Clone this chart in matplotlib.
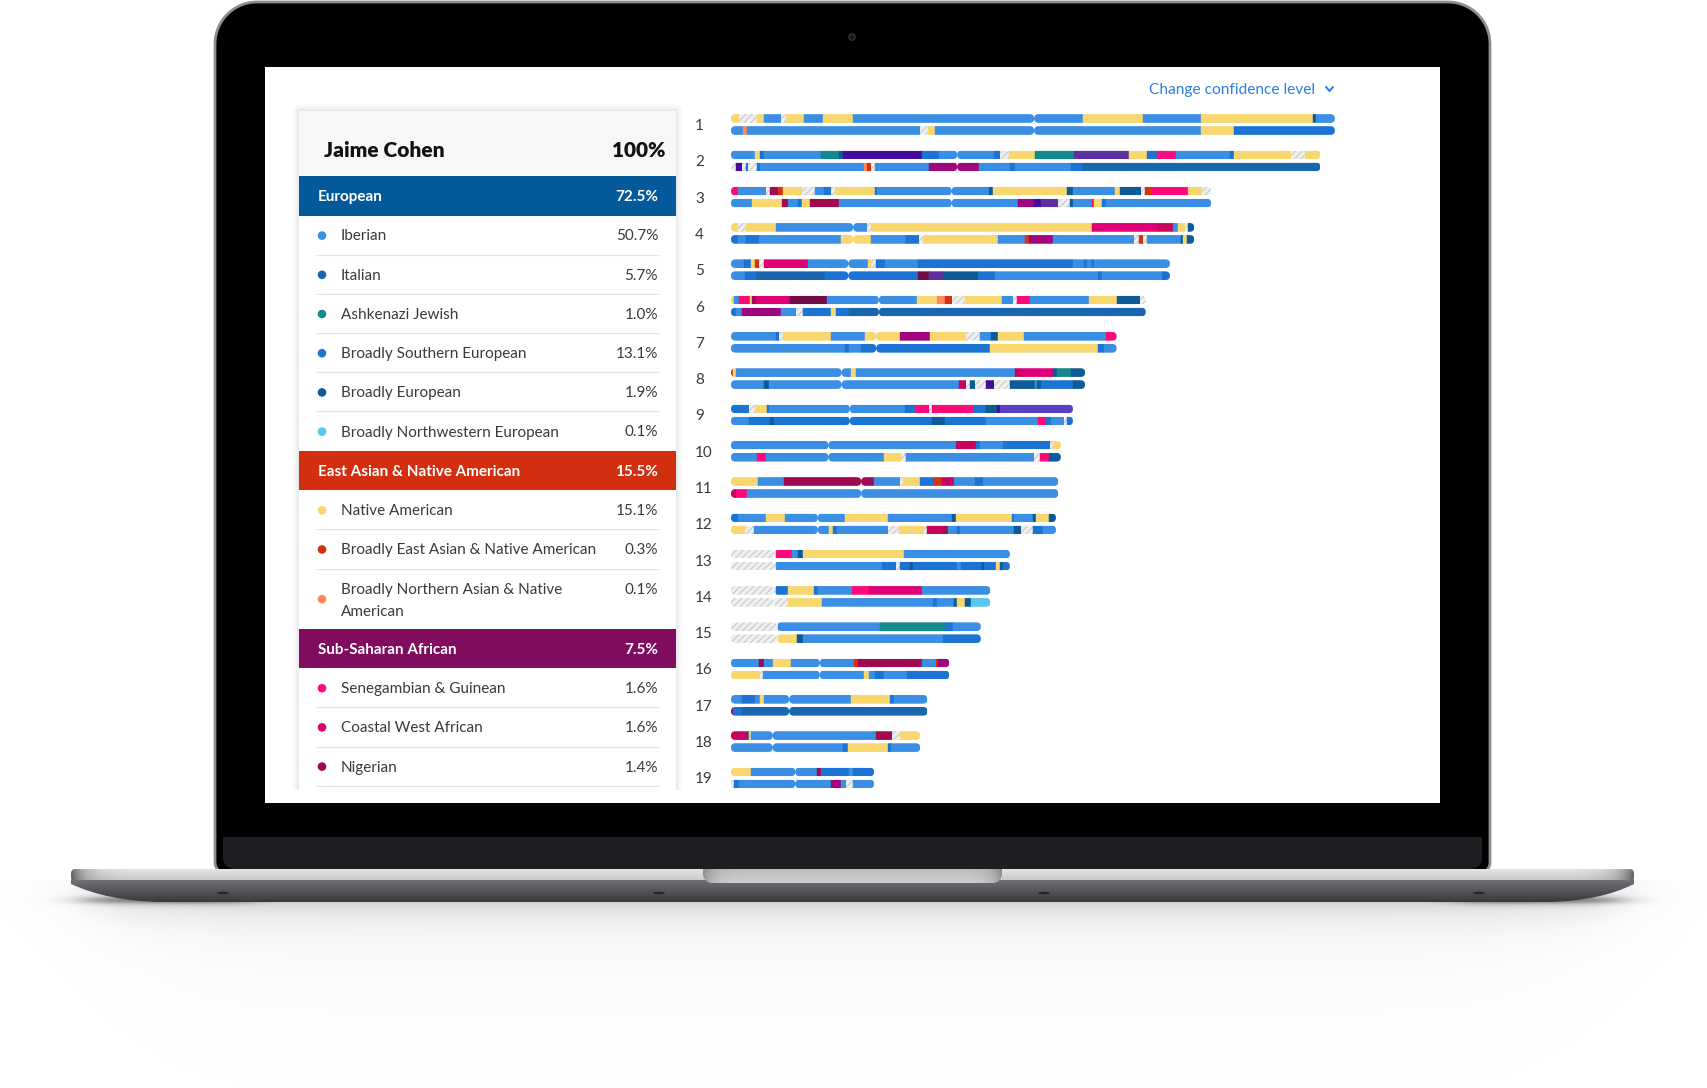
"""Ancestry composition screen shown on a laptop mock-up."""

import textwrap
import numpy as np
import matplotlib.pyplot as plt
from matplotlib.patches import FancyBboxPatch, Rectangle, PathPatch, Ellipse, Circle
from matplotlib.path import Path

plt.rcParams["font.family"] = ["Lato", "DejaVu Sans"]
plt.rcParams["hatch.linewidth"] = 0.7

# ---- ancestry summary -------------------------------------------------------
person = "Jaime Cohen"
groups = ["European", "East Asian & Native American", "Sub-Saharan African"]
group_pct = [72.5, 15.5, 7.5]
group_colors = ["#04599b", "#d22e10", "#7f0c5e"]

regions = ["Iberian", "Italian", "Ashkenazi Jewish", "Broadly Southern European",
           "Broadly European", "Broadly Northwestern European",
           "Native American", "Broadly East Asian & Native American",
           "Broadly Northern Asian & Native American",
           "Senegambian & Guinean", "Coastal West African", "Nigerian"]
region_pct = [50.7, 5.7, 1.0, 13.1, 1.9, 0.1, 15.1, 0.3, 0.1, 1.6, 1.6, 1.4]
region_group = [0, 0, 0, 0, 0, 0, 1, 1, 1, 2, 2, 2]
region_codes = ["IB", "IT", "AJ", "SE", "BE", "NW", "NA", "EA", "NN", "SG", "CW", "NG"]

palette = {
    "IB": "#3a8ee4", "IT": "#1a66ae", "AJ": "#12898a", "SE": "#1b74d3",
    "BE": "#0d5a98", "NW": "#57c7ee", "NA": "#f9d76f", "EA": "#d5330f",
    "NN": "#ff8a5c", "SG": "#ff0a78", "CW": "#df0078", "NG": "#9f0a50",
    "CR": "#c6045e", "MR": "#730d46", "MP": "#a0067c", "PU": "#5d2f9f",
    "DP": "#430c9b", "VI": "#5442c2", "UN": "#efefef",
}

# ---- chromosome painting (segment end in Mb, region code) --------------------
chrom_len = [249, 243, 198, 191, 181, 171, 159, 146, 141, 136, 135, 134,
             115, 107, 103, 90, 81, 78, 59]
centromere = [125.0, 93.3, 91.0, 50.4, 48.4, 61.0, 59.9, 45.6, 49.0, 40.2,
              53.7, 35.8, 17.9, 17.6, 19.0, 36.6, 24.0, 17.2, 26.5]

chr1_a = [(3.1, "NA"), (10.8, "UN"), (13.7, "NA"), (20.7, "IB"), (22.8, "UN"), (30.3, "NA"),
          (37.9, "IB"), (50.2, "NA"), (145.2, "IB"), (169.7, "NA"), (193.7, "IB"),
          (240.2, "NA"), (241.4, "BE"), (249, "IB")]
chr1_b = [(5.1, "IB"), (6.5, "NN"), (77.8, "IB"), (81.3, "UN"), (84.3, "NA"), (193.7, "IB"),
          (207.5, "NA"), (249, "SE")]
chr2_a = [(10.1, "IB"), (12.1, "NA"), (13.7, "SE"), (37.1, "IB"), (44.4, "AJ"), (46.0, "BE"),
          (78.8, "DP"), (85.8, "SE"), (108.6, "IB"), (110.9, "SE"), (114.7, "UN"), (125.3, "NA"),
          (141.4, "AJ"), (164.1, "PU"), (171.5, "NA"), (175.8, "SE"), (183.4, "SG"),
          (205.8, "IB"), (207.5, "SE"), (231.1, "NA"), (236.8, "UN"), (243, "NA")]
chr2_b = [(2.2, "UN"), (4.6, "DP"), (6.0, "UN"), (7.1, "SE"), (10.8, "UN"), (12.1, "SE"),
          (54.8, "IB"), (56.0, "NN"), (57.6, "EA"), (59.3, "UN"), (81.6, "IB"), (102.3, "MP"),
          (115.1, "IB"), (117.2, "SE"), (140.4, "IB"), (145.0, "SE"), (243, "IT")]
chr3_a = [(3.0, "SG"), (14.6, "IB"), (16.1, "UN"), (19.4, "NG"), (21.4, "EA"), (29.3, "NA"),
          (34.6, "UN"), (38.2, "IB"), (41.1, "SE"), (42.7, "UN"), (59.4, "NA"), (60.1, "SE"),
          (106.5, "IB"), (108.1, "BE"), (138.6, "NA"), (141.2, "BE"), (158.4, "IB"),
          (160.3, "NA"), (169.0, "BE"), (170.7, "UN"), (173.5, "EA"), (188.4, "SG"),
          (194.2, "NA"), (198, "UN")]
chr3_b = [(8.8, "IB"), (21.2, "NA"), (23.3, "NG"), (27.8, "IB"), (29.3, "SE"), (32.6, "NA"),
          (44.5, "NG"), (118.4, "IB"), (125.0, "MP"), (128.0, "DP"), (134.9, "PU"),
          (139.9, "UN"), (140.9, "BE"), (148.7, "IB"), (149.8, "SG"), (153.1, "NA"),
          (154.8, "SE"), (198, "IB")]
chr4_a = [(3.0, "NA"), (6.3, "UN"), (18.7, "NA"), (56.0, "IB"), (57.6, "UN"), (148.7, "NA"),
          (176.0, "CW"), (182.3, "CR"), (184.3, "IB"), (187.2, "NA"), (188.4, "UN"), (191, "BE")]
chr4_b = [(3.0, "SE"), (6.3, "IB"), (11.6, "SE"), (45.2, "IB"), (57.6, "NA"), (72.2, "IB"),
          (77.5, "SE"), (79.1, "UN"), (110.1, "NA"), (121.4, "IB"), (122.7, "EA"), (132.6, "MP"),
          (166.1, "IB"), (168.2, "UN"), (169.7, "EA"), (171.5, "UN"), (185.6, "IB"),
          (186.3, "BE"), (188.1, "NA"), (191, "BE")]
chr5_a = [(5.5, "IB"), (8.3, "SE"), (10.1, "NA"), (11.6, "EA"), (13.7, "UN"), (31.6, "CW"),
          (56.3, "IB"), (57.6, "NA"), (59.6, "UN"), (63.7, "SE"), (77.2, "IB"), (141.2, "SE"),
          (145.7, "IB"), (147.0, "SE"), (148.7, "IB"), (149.8, "SE"), (181, "IB")]
chr5_b = [(5.8, "IB"), (10.4, "SE"), (38.6, "IT"), (77.2, "SE"), (81.6, "MR"), (87.4, "PU"),
          (102.0, "BE"), (108.9, "SE"), (151.2, "IB"), (152.8, "SE"), (177.6, "IB"), (181, "SE")]
chr6_a = [(1.3, "NA"), (3.3, "IB"), (7.9, "SG"), (8.8, "NA"), (10.4, "NG"), (24.2, "CW"),
          (39.6, "MR"), (76.7, "IB"), (84.9, "NA"), (88.2, "NN"), (91.2, "EA"), (96.5, "UN"),
          (111.9, "NA"), (116.1, "IB"), (118.0, "UN"), (123.5, "SG"), (147.8, "IB"),
          (159.1, "NA"), (168.5, "BE"), (171, "UN")]
chr6_b = [(2.2, "SE"), (4.6, "IB"), (20.7, "MP"), (27.0, "IB"), (29.8, "UN"), (41.2, "SE"),
          (43.5, "NA"), (48.5, "SE"), (171, "IT")]
chr7_a = [(18.7, "IB"), (20.0, "SE"), (21.5, "UN"), (41.2, "NA"), (55.3, "IB"), (69.7, "NA"),
          (82.0, "MP"), (96.9, "NA"), (102.8, "UN"), (107.3, "IB"), (110.1, "BE"),
          (120.9, "NA"), (154.8, "IB"), (159, "SG")]
chr7_b = [(46.9, "IB"), (48.5, "SE"), (53.8, "IB"), (107.0, "SE"), (151.3, "NA"),
          (154.0, "SE"), (159, "IB")]
chr8_a = [(1.0, "EA"), (2.2, "NA"), (49.3, "IB"), (51.5, "NA"), (117.2, "IB"), (120.0, "CR"),
          (132.6, "CW"), (134.6, "BE"), (140.1, "AJ"), (146, "BE")]
chr8_b = [(13.7, "IB"), (15.7, "BE"), (94.0, "IB"), (96.9, "CR"), (98.5, "UN"), (100.7, "BE"),
          (105.1, "UN"), (108.4, "DP"), (115.1, "UN"), (125.2, "BE"), (126.3, "IB"),
          (128.0, "BE"), (141.2, "SE"), (146, "BE")]
chr9_a = [(7.5, "SE"), (10.1, "UN"), (14.9, "NA"), (15.7, "SE"), (71.7, "IB"), (75.8, "SE"),
          (81.6, "SG"), (82.9, "UN"), (100.3, "SG"), (105.1, "SE"), (109.8, "BE"),
          (110.9, "DP"), (141, "VI")]
chr9_b = [(7.5, "IB"), (16.2, "SE"), (17.9, "BE"), (82.9, "SE"), (88.2, "BE"), (105.1, "SE"),
          (126.7, "IB"), (130.1, "SG"), (132.1, "SE"), (137.4, "IB"), (138.4, "UN"), (141, "SE")]
chr10_a = [(92.9, "IB"), (101.0, "CR"), (102.6, "SE"), (112.3, "IB"), (131.6, "SE"),
           (132.9, "UN"), (136, "NA")]
chr10_b = [(10.8, "IB"), (14.6, "SG"), (63.1, "IB"), (70.0, "NA"), (72.2, "UN"), (125.0, "IB"),
           (127.6, "UN"), (131.3, "SG"), (136, "BE")]
chr11_a = [(11.3, "NA"), (22.0, "IB"), (58.9, "NG"), (69.7, "IB"), (70.9, "UN"), (77.8, "NA"),
           (83.6, "SE"), (87.1, "EA"), (91.9, "CR"), (100.7, "IB"), (104.0, "SE"), (135, "IB")]
chr11_b = [(2.2, "CR"), (6.6, "SG"), (135, "IB")]
chr12_a = [(3.0, "SE"), (14.6, "IB"), (22.4, "NA"), (47.2, "IB"), (64.7, "NA"), (91.2, "IB"),
           (92.9, "BE"), (115.9, "NA"), (116.7, "SE"), (124.7, "IB"), (125.8, "BE"),
           (131.3, "NA"), (134, "BE")]
chr12_b = [(5.8, "NA"), (9.6, "UN"), (40.6, "IB"), (42.2, "NA"), (43.9, "SE"), (64.7, "IB"),
           (69.2, "UN"), (79.6, "NA"), (80.8, "UN"), (87.4, "CR"), (89.4, "NG"), (93.2, "IB"),
           (94.4, "SE"), (116.9, "IB"), (119.4, "BE"), (124.7, "UN"), (128.8, "SE"), (134, "IB")]
chr13_a = [(18.7, "UN"), (25.3, "SG"), (27.8, "IB"), (29.5, "BE"), (71.2, "NA"), (115, "IB")]
chr13_b = [(18.7, "UN"), (62.3, "IB"), (67.9, "SE"), (69.5, "UN"), (73.8, "SE"), (75.0, "BE"),
           (93.2, "SE"), (94.9, "IB"), (103.5, "SE"), (104.5, "BE"), (109.4, "SE"),
           (110.9, "NA"), (112.1, "BE"), (115, "SE")]
chr14_a = [(18.7, "UN"), (23.7, "SE"), (34.4, "NA"), (35.8, "SE"), (49.8, "IB"), (57.1, "SG"),
           (78.6, "CW"), (107, "IB")]
chr14_b = [(23.7, "UN"), (37.4, "NA"), (83.3, "IB"), (84.9, "SE"), (91.9, "IB"), (93.2, "BE"),
           (96.5, "NA"), (99.0, "BE"), (107, "NW")]
chr15_a = [(19.5, "UN"), (61.3, "IB"), (88.2, "AJ"), (91.6, "SE"), (103, "IB")]
chr15_b = [(19.5, "UN"), (27.3, "NA"), (29.5, "BE"), (87.4, "IB"), (103, "SE")]
chr16_a = [(11.6, "IB"), (13.7, "NG"), (17.5, "IB"), (24.8, "NA"), (50.7, "IB"), (52.3, "EA"),
           (78.6, "NG"), (84.4, "IB"), (85.4, "EA"), (90, "MP")]
chr16_b = [(11.8, "NA"), (13.2, "UN"), (54.8, "IB"), (56.8, "NA"), (59.4, "IB"), (63.1, "SE"),
           (72.5, "IB"), (90, "SE")]
chr17_a = [(4.6, "IB"), (10.1, "SE"), (12.1, "IB"), (13.7, "NA"), (49.3, "IB"), (65.6, "NA"),
           (67.2, "SE"), (81, "IB")]
chr17_b = [(0.8, "NG"), (4.6, "SE"), (81, "IT")]
chr18_a = [(6.8, "CR"), (7.6, "BE"), (8.4, "NA"), (59.8, "IB"), (66.2, "NG"), (69.5, "UN"),
           (78, "NA")]
chr18_b = [(46.0, "IB"), (48.2, "SE"), (64.7, "NA"), (65.9, "SE"), (78, "IB")]
chr19_a = [(8.4, "NA"), (35.3, "IB"), (37.3, "NG"), (48.8, "SE"), (50.2, "IB"), (59, "SE")]
chr19_b = [(1.3, "UN"), (3.3, "SE"), (41.1, "IB"), (45.2, "MP"), (47.4, "IB"), (50.2, "UN"),
           (59, "IB")]

haplotypes = [(chr1_a, chr1_b), (chr2_a, chr2_b), (chr3_a, chr3_b), (chr4_a, chr4_b),
              (chr5_a, chr5_b), (chr6_a, chr6_b), (chr7_a, chr7_b), (chr8_a, chr8_b),
              (chr9_a, chr9_b), (chr10_a, chr10_b), (chr11_a, chr11_b), (chr12_a, chr12_b),
              (chr13_a, chr13_b), (chr14_a, chr14_b), (chr15_a, chr15_b), (chr16_a, chr16_b),
              (chr17_a, chr17_b), (chr18_a, chr18_b), (chr19_a, chr19_b)]

W, H = 1708, 1088
fig = plt.figure(figsize=(W / 100, H / 100), dpi=100)
bg = fig.add_axes([0, 0, 1, 1])
bg.axis("off")


def px_axes(x0, y0, x1, y1):
    return fig.add_axes([x0 / W, 1 - y1 / H, (x1 - x0) / W, (y1 - y0) / H])


def rrect_path(x0, y0, x1, y1, rt, rb):
    # y0 is the top edge (screen y grows downwards)
    k = 0.5523
    v = [(x0 + rt, y0), (x1 - rt, y0),
         (x1 - rt + k * rt, y0), (x1, y0 + rt - k * rt), (x1, y0 + rt),
         (x1, y1 - rb),
         (x1, y1 - rb + k * rb), (x1 - rb + k * rb, y1), (x1 - rb, y1),
         (x0 + rb, y1),
         (x0 + rb - k * rb, y1), (x0, y1 - rb + k * rb), (x0, y1 - rb),
         (x0, y0 + rt),
         (x0, y0 + rt - k * rt), (x0 + rt - k * rt, y0), (x0 + rt, y0),
         (x0 + rt, y0)]
    c = ([Path.MOVETO, Path.LINETO] + [Path.CURVE4] * 3 + [Path.LINETO] + [Path.CURVE4] * 3
         + [Path.LINETO] + [Path.CURVE4] * 3 + [Path.LINETO] + [Path.CURVE4] * 3 + [Path.CLOSEPOLY])
    return Path(v, c)


def smooth_box(x, a, b, s):
    return 1 / (1 + np.exp(-(x - a) / s)) / (1 + np.exp((x - b) / s))


def gradient_fill(path, img, extent, z):
    patch = PathPatch(path, fc="none", lw=0, zorder=z)
    bg.add_patch(patch)
    im = bg.imshow(img, extent=extent, aspect="auto", interpolation="bilinear", zorder=z)
    im.set_clip_path(patch)


# ---- floor shadow ------------------------------------------------------------
X, Y = np.meshgrid(np.arange(W) + 0.5, np.arange(880, H) + 0.5)
below = np.clip(Y - 902, 0, None)
near = 0.13 * np.exp(-below / 14) * smooth_box(X, 95, 1610, 18)
haze = 0.05 * np.exp(-below / 75) * smooth_box(X, 140, 1570, 55)
taper = 0.35 * np.exp(-((Y - 900) / 4) ** 2) * (smooth_box(X, 85, 250, 12) + smooth_box(X, 1455, 1620, 12))
shadow = np.zeros(X.shape + (4,))
shadow[..., 3] = np.clip(near + haze + taper, 0, 1)
bg.imshow(shadow, extent=(0, W, H, 880), aspect="auto", zorder=0)

# ---- lid, bezel, screen -------------------------------------------------------
bg.add_patch(PathPatch(rrect_path(215, 2, 1490, 874, 42, 12), fc="black", ec="#8e8e8e",
                       lw=2.0, zorder=2))
bg.add_patch(PathPatch(rrect_path(223, 837, 1482, 869, 0, 11), fc="#1d1e21", lw=0, zorder=3))
bg.add_patch(Rectangle((265, 67), 1175, 736, fc="white", lw=0, zorder=3))
bg.add_patch(Circle((852, 37), 3.2, fc="#1a1a1a", ec="#3a3a3a", lw=0.8, zorder=4))

view = Rectangle((265, 67), 1175, 723, transform=bg.transData)

bg.text(1149, 90, "Change confidence level", color="#2f80df", fontsize=11.2,
        va="center", zorder=5)
bg.plot([1326, 1329.5, 1333], [87, 91, 87], color="#2f80df", lw=1.5,
        solid_capstyle="round", zorder=5)

# ---- summary card ---------------------------------------------------------------
for d, a in [(7, 0.012), (5, 0.018), (3, 0.025), (1.5, 0.035)]:
    p = FancyBboxPatch((299 - d, 111 - d), 377 + 2 * d, 720, boxstyle=f"round,pad=0,rounding_size={d}",
                       fc="black", alpha=a, lw=0, zorder=4)
    bg.add_patch(p)
    p.set_clip_path(view)
card = Rectangle((299, 111), 377, 720, fc="white", lw=0, zorder=5)
bg.add_patch(card)
card.set_clip_path(view)
bg.add_patch(Rectangle((299, 111), 377, 65, fc="#f6f7f9", lw=0, zorder=5))
bg.text(324, 150.5, person, fontsize=15, fontweight="heavy", color="#111111", va="center", zorder=6)
bg.text(666, 150.5, "100%", fontsize=15, fontweight="heavy", color="#111111", va="center",
        ha="right", zorder=6)

y = 176.0
for g, (gname, gpct, gcol) in enumerate(zip(groups, group_pct, group_colors)):
    bg.add_patch(Rectangle((299, y), 377, 39.5, fc=gcol, lw=0, zorder=6))
    bg.text(318, y + 21, gname, color="white", fontsize=11, fontweight="bold", va="center", zorder=7)
    bg.text(658, y + 21, f"{gpct:.1f}%", color="white", fontsize=11, fontweight="bold",
            va="center", ha="right", zorder=7)
    y += 39.5
    members = [k for k in range(len(regions)) if region_group[k] == g]
    for k in members:
        lines = textwrap.wrap(regions[k], 37)
        h = 39.2 + 20.8 * (len(lines) - 1)
        bg.add_patch(Circle((322, y + h / 2 + 0.5), 4.3, fc=palette[region_codes[k]], lw=0, zorder=7))
        for j, line in enumerate(lines):
            bg.text(341, y + 21 + 22 * j, line, fontsize=11, color="#3a3a3a", va="center", zorder=7)
        bg.text(658, y + 21, f"{region_pct[k]:.1f}%", fontsize=11, color="#3a3a3a",
                va="center", ha="right", zorder=7)
        y += h
        if k != members[-1] or g == len(groups) - 1:
            ln, = bg.plot([317, 658], [y, y], color="#e4e4e4", lw=0.9, zorder=7)
            ln.set_clip_path(view)

# ---- laptop base ------------------------------------------------------------------
under = Path([(71, 879), (1634, 879), (1634, 884), (1600, 901), (1548, 902), (160, 902),
              (108, 901), (71, 884), (71, 879)],
             [Path.MOVETO, Path.LINETO, Path.LINETO, Path.CURVE3, Path.CURVE3, Path.LINETO,
              Path.CURVE3, Path.CURVE3, Path.CLOSEPOLY])
ramp = np.linspace(0, 1, 40)[:, None, None]
top_c = np.array([0.45, 0.45, 0.47])
bot_c = np.array([0.22, 0.22, 0.24])
gradient_fill(under, np.repeat(top_c + (bot_c - top_c) * ramp, 2, axis=1),
              (71, 1634, 902, 879), 8)

xs = np.linspace(71, 1634, 800)
shade = 0.86 - 0.45 * np.exp(-(xs - 71) / 14) - 0.45 * np.exp(-(1634 - xs) / 14)
vert = np.linspace(1.04, 0.92, 12)[:, None]
silver = np.clip(vert * shade[None, :], 0, 1)[..., None] * np.ones(3)
gradient_fill(rrect_path(71, 869, 1634, 880, 4, 3), silver, (71, 1634, 880, 869), 9)

nx = np.linspace(703, 1002, 400)
nshade = 0.78 - 0.22 * np.exp(-(nx - 703) / 10) - 0.22 * np.exp(-(1002 - nx) / 10)
notch = np.clip(np.linspace(0.96, 1.04, 10)[:, None] * nshade[None, :], 0, 1)[..., None] * np.ones(3)
gradient_fill(rrect_path(703, 869, 1002, 883, 0, 9), notch, (703, 1002, 883, 869), 10)

for fx in [223, 659, 1044, 1479]:
    bg.add_patch(Ellipse((fx, 893), 12, 2.5, fc="#26262a", lw=0, zorder=11))

bg.set_xlim(0, W)
bg.set_ylim(H, 0)

# ---- chromosome painting panel ----------------------------------------------------
mb_px = 2.425          # pixels per Mb
row_px = 36.3          # pixels per chromosome row
cax = px_axes(731, 106.35, 731 + 249 * mb_px, 790)
cax.set_xlim(0, 249)
cax.set_ylim(1 + (790 - 124.5) / row_px, 0.5)
bar_h = 8.6 / row_px
offset = 6.0 / row_px
aspect = (1 / row_px) / (1 / mb_px)

for i, (pair, L, cen) in enumerate(zip(haplotypes, chrom_len, centromere), start=1):
    for hap, dy in zip(pair, (-offset, offset)):
        yc = i + dy
        arms = []
        for a, b in ((0, cen), (cen, L)):
            fb = FancyBboxPatch((a, yc - bar_h / 2), b - a, bar_h,
                                boxstyle=f"round,pad=0,rounding_size={bar_h / 2 / aspect}",
                                mutation_aspect=aspect)
            arms.append(fb.get_path())
        clip = PathPatch(Path.make_compound_path(*arms), transform=cax.transData)
        ends = [e for e, _ in hap]
        starts = [0] + ends[:-1]
        codes = [c for _, c in hap]
        cols = [palette[c] for c in codes]
        bars = cax.barh([yc] * len(hap), np.subtract(ends, starts), left=starts, height=bar_h,
                        color=cols, edgecolor=cols, lw=0.3)
        for bar, c in zip(bars, codes):
            if c == "UN":
                bar.set_edgecolor("#c4c4c4")
                bar.set_linewidth(0)
                bar.set_hatch("/////")
            bar.set_clip_path(clip)

rows = list(range(1, len(chrom_len) + 1))
cax.set_yticks(rows, [str(r) for r in rows])
cax.tick_params(axis="y", length=0, pad=25.9, labelsize=11, labelcolor="#3b3b3b")
for t in cax.get_yticklabels():
    t.set_ha("left")
cax.set_xticks([])
for s in cax.spines.values():
    s.set_visible(False)
cax.patch.set_visible(False)

fig.savefig("out.png", dpi=100)
